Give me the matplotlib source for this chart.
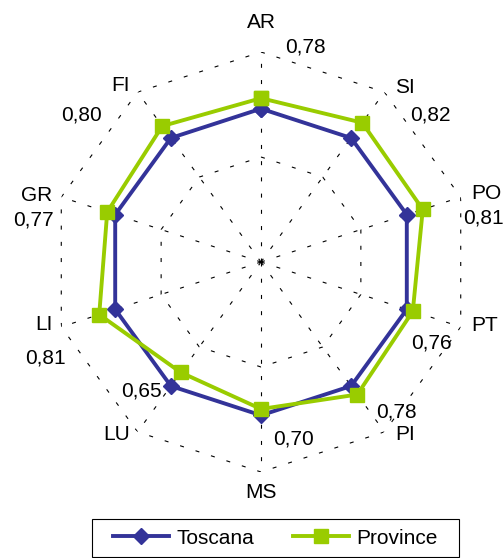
import numpy as np
import matplotlib
matplotlib.use("Agg")
import matplotlib.pyplot as plt
from matplotlib.patches import Rectangle

plt.rcParams["font.family"] = ["Liberation Sans", "DejaVu Sans"]

# data
categories = ["AR", "SI", "PO", "PT", "PI", "MS", "LU", "LI", "GR", "FI"]
toscana = [0.73, 0.73, 0.73, 0.73, 0.73, 0.73, 0.73, 0.73, 0.73, 0.73]
province = [0.78, 0.82, 0.81, 0.76, 0.78, 0.70, 0.65, 0.81, 0.77, 0.80]
series_names = ["Toscana", "Province"]

# label placement (pixel offsets from the outer vertex, alignment)
cat_offsets = [(0, 30, "center"), (11, 5, "left"), (11, 4, "left"), (11, 1, "left"),
               (11, -3, "left"), (0, -21, "center"), (-8, -3, "right"),
               (-9, 2, "right"), (-9, 2, "right"), (-8, 7, "right")]
val_offsets = [(24, 5, "left"), (26, -23, "left"), (2, -21, "left"), (-9, -16, "right"),
               (-8, 20, "left"), (12, 33, "left"), (24, 41, "right"),
               (4, -31, "right"), (-8, -23, "right"), (-36, -23, "right")]

n = len(categories)
theta = np.linspace(0, 2 * np.pi, n, endpoint=False)
closed = np.append(theta, theta[0])

W, H = 504, 558
fig = plt.figure(figsize=(W / 100, H / 100), dpi=100)
cx, cy, R = 261, 262, 210
ax = fig.add_axes([(cx - R) / W, (H - cy - R) / H, 2 * R / W, 2 * R / H],
                  projection="polar")
ax.set_theta_zero_location("N")
ax.set_theta_direction(-1)
ax.set_ylim(0, 1)
ax.grid(False)
ax.spines["polar"].set_visible(False)
ax.set_xticks([])
ax.set_yticks([])
ax.patch.set_alpha(0)

# decagon grid
grid_style = dict(color="black", lw=0.8, ls=(0, (3.6, 11)), zorder=1)
for r in [0.5, 1.0]:
    ax.plot(closed, np.full(n + 1, r), **grid_style)
for t in theta:
    ax.plot([t, t], [0, 1], **grid_style)

ax.plot(closed, np.append(toscana, toscana[0]), color="#333399", lw=2.8,
        marker="D", ms=8, label=series_names[0], zorder=3, clip_on=False)
ax.plot(closed, np.append(province, province[0]), color="#99CC00", lw=2.8,
        marker="s", ms=10, label=series_names[1], zorder=4, clip_on=False)

for t, name, v, co, vo in zip(theta, categories, province, cat_offsets, val_offsets):
    ax.annotate(name, xy=(t, 1), xytext=(co[0], co[1]), textcoords="offset pixels",
                ha=co[2], va="center", fontsize=15, annotation_clip=False)
    ax.annotate(f"{v:.2f}".replace(".", ","), xy=(t, 1), xytext=(vo[0], vo[1]),
                textcoords="offset pixels", ha=vo[2], va="center", fontsize=15,
                annotation_clip=False)

fig.legend(loc="center", bbox_to_anchor=(275.5 / W, 20 / H), ncol=2,
           fontsize=15, handlelength=2.7, handletextpad=0.34,
           columnspacing=1.87, frameon=False, borderpad=0.3)
fig.patches.append(Rectangle((92 / W, 1 / H), 367 / W, 38 / H, transform=fig.transFigure,
                             fill=False, edgecolor="black", lw=0.8))

fig.savefig("out.png", dpi=100)
